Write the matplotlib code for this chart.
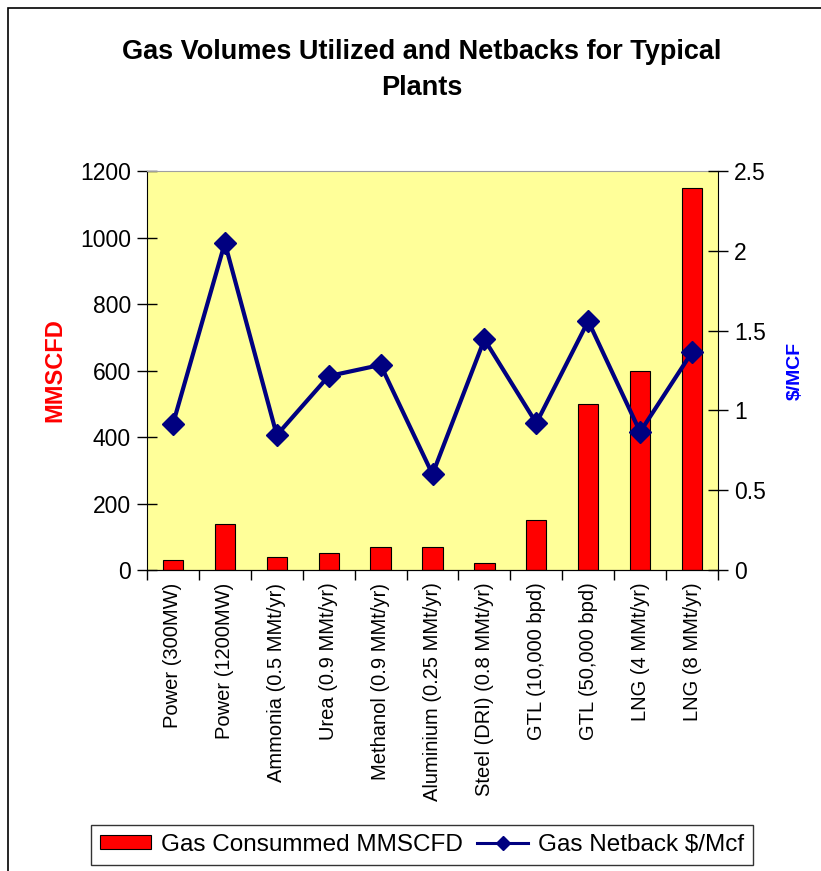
import matplotlib.pyplot as plt
import matplotlib.patches as mpatches
from matplotlib.lines import Line2D
import numpy as np

plt.rcParams['font.family'] = ['Liberation Sans', 'DejaVu Sans']

plants = ['Power (300MW)', 'Power (1200MW)', 'Ammonia (0.5 MMt/yr)', 'Urea (0.9 MMt/yr)',
          'Methanol (0.9 MMt/yr)', 'Aluminium (0.25 MMt/yr)', 'Steel (DRI) (0.8 MMt/yr)',
          'GTL (10,000 bpd)', 'GTL (50,000 bpd)', 'LNG (4 MMt/yr)', 'LNG (8 MMt/yr)']
gas_mmscfd = [30, 137, 40, 50, 70, 70, 20, 150, 500, 600, 1150]
netback = [0.915, 2.05, 0.845, 1.215, 1.285, 0.60, 1.445, 0.92, 1.56, 0.865, 1.365]

fig = plt.figure(figsize=(8.21, 8.71), dpi=100)
# outer chart frame
fig.patches.append(mpatches.Rectangle((8 / 821, -0.01), 1.0, 1 - 8 / 871 + 0.01,
                                      transform=fig.transFigure, fill=False,
                                      edgecolor='black', linewidth=1.2))

ax = fig.add_axes([147 / 821, 1 - 570 / 871, (718 - 147) / 821, (570 - 171) / 871])
ax.set_facecolor('#FFFF99')
x = np.arange(len(plants))
ax.bar(x, gas_mmscfd, width=0.39, color='#FF0000', edgecolor='black', linewidth=0.8, zorder=2)
ax.set_xlim(-0.5, len(plants) - 0.5)
ax.set_ylim(0, 1200)
ax.set_yticks(np.arange(0, 1201, 200))
ax.tick_params(axis='y', direction='inout', length=15, width=1, labelsize=16.5, pad=4)
ax.set_xticks(x)
ax.set_xticklabels(plants, rotation=90, fontsize=14.5)
ax.tick_params(axis='x', length=0, pad=9)
ax.set_xticks(np.arange(-0.5, len(plants)), minor=True)
ax.tick_params(axis='x', which='minor', direction='out', length=7, width=1)
ax.set_ylabel('MMSCFD', color='#FF0000', fontsize=17, fontweight='bold', labelpad=10)
ax.spines['top'].set_color('#a0a0a0')
ax.spines['right'].set_visible(False)

ax2 = ax.twinx()
ax2.plot(x, netback, color='#000080', linewidth=3, marker='D', markersize=11, zorder=3)
ax2.set_ylim(0, 2.5)
ax2.set_yticks([0, 0.5, 1, 1.5, 2, 2.5])
ax2.set_yticklabels(['0', '0.5', '1', '1.5', '2', '2.5'])
ax2.tick_params(axis='y', direction='inout', length=15, width=1, labelsize=16.5, pad=4)
ax2.set_ylabel('$/MCF', color='#0000FF', fontsize=14, fontweight='bold', labelpad=15)
ax2.spines['top'].set_visible(False)
ax2.spines['left'].set_visible(False)

fig.text(0.514, 1 - 70 / 871, 'Gas Volumes Utilized and Netbacks for Typical\nPlants',
         ha='center', va='center', fontsize=19.5, fontweight='bold', linespacing=1.5)

handles = [mpatches.Patch(facecolor='#FF0000', edgecolor='black', linewidth=0.8),
           Line2D([], [], color='#000080', linewidth=2.2, marker='D', markersize=7)]
fig.legend(handles, ['Gas Consummed MMSCFD', 'Gas Netback $/Mcf'], loc='center',
           bbox_to_anchor=(422 / 821, 1 - 845 / 871), ncol=2, fontsize=17.5, frameon=True,
           fancybox=False, edgecolor='black', handlelength=2.1, handleheight=0.5,
           columnspacing=0.6, handletextpad=0.4, borderpad=0.35, borderaxespad=0)

fig.savefig('out.png', dpi=100)
